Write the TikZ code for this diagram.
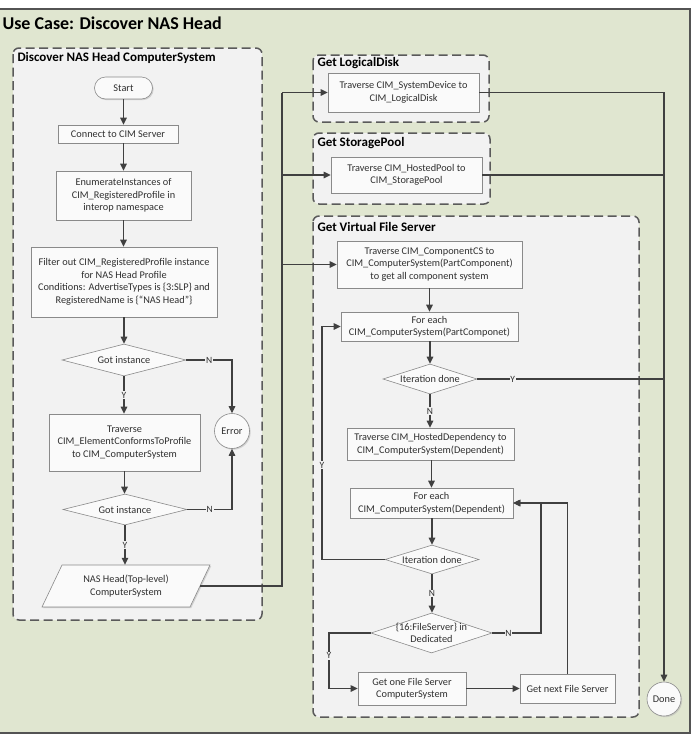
\documentclass[tikz,border=0pt]{standalone}
\usepackage{fontspec}
\setmainfont{Carlito}
\usetikzlibrary{arrows.meta,shapes.geometric,shadows,calc}
\definecolor{outerbg}{HTML}{E0E6D0}
\definecolor{groupbg}{HTML}{F2F2F2}
\definecolor{linec}{HTML}{404040}
\definecolor{boxborder}{HTML}{8A8A8A}
\definecolor{boxfill}{HTML}{FAFAFA}
\definecolor{txt}{HTML}{303030}
\definecolor{dashc}{HTML}{5A5A5A}
\begin{document}
\begin{tikzpicture}[x=1pt,y=-1pt,
  font=\fontsize{10.3}{12.5}\selectfont,
  every label/.style={text=txt},
  proc/.style={draw=boxborder, line width=0.6pt, fill=boxfill, text=txt, align=center, inner sep=1pt,
    drop shadow={shadow xshift=1.2pt, shadow yshift=-1.2pt, fill=black!30, opacity=0.5}},
  dec/.style={diamond, draw=boxborder, line width=0.6pt, fill=boxfill, inner sep=0pt},
  line/.style={draw=linec, line width=1.05pt},
  arr/.style={line, -{Triangle[length=7pt,width=6.5pt]}},
  lbl/.style={fill=groupbg, inner sep=0.8pt, text=txt, font=\fontsize{9.5}{11}\selectfont},
  grp/.style={draw=dashc, dash pattern=on 9pt off 4.5pt, line width=1.5pt, fill=groupbg, rounded corners=6pt},
  grptitle/.style={anchor=west, text=black, font=\bfseries\fontsize{13}{15}\selectfont}]
\useasboundingbox (0,0) rectangle (691,740);
% outer frame
\draw[draw=linec!90, fill=outerbg, line width=1.5pt] (-3,9) rectangle (690,733);
\node[anchor=west, text=black, font=\bfseries\fontsize{18}{20}\selectfont] (title) at (-1,23) {Use Case: Discover NAS Head};
% groups
\draw[grp] (13,48) rectangle (262,620);
\node[grptitle] (g1t) at (14,58) {Discover NAS Head ComputerSystem};
\draw[grp] (313,55) rectangle (489,122);
\node[grptitle] (g2t) at (314,63) {Get LogicalDisk};
\draw[grp] (313,133) rectangle (490,204);
\node[grptitle] (g3t) at (314,143) {Get StoragePool};
\draw[grp] (313,216) rectangle (639,717);
\node[grptitle] (g4t) at (314,227) {Get Virtual File Server};
% parallelogram outline
\draw[draw=boxborder, line width=0.6pt, fill=boxfill, drop shadow={shadow xshift=1.2pt, shadow yshift=-1.2pt, fill=black!30, opacity=0.5}]
  (42,607) -- (190,607) -- (210,565) -- (62,565) -- cycle;
% left column
\node[proc, rounded corners=11pt, minimum width=58pt, minimum height=22pt] (start) at (123.5,88) {Start};
\node[proc, minimum width=120pt, minimum height=18pt] (connect) at (118,134) {Connect to CIM Server};
\node[proc, minimum width=135pt, minimum height=49pt] (enum) at (123.5,195.5) {EnumerateInstances of\\CIM\_RegisteredProfile in\\interop namespace};
\node[proc, minimum width=186pt, minimum height=70pt] (filter) at (124,282) {Filter out CIM\_RegisteredProfile instance\\for NAS Head Profile\\Conditions: AdvertiseTypes is \{3:SLP\} and\\RegisteredName is \{“NAS Head”\}};
\node[dec, minimum width=124pt, minimum height=32pt, label=center:Got instance] (d1) at (124,360) {};
\node[proc, minimum width=151pt, minimum height=57pt] (trav) at (124.5,442.5) {Traverse\\CIM\_ElementConformsToProfile\\to CIM\_ComputerSystem};
\node[proc, circle, minimum size=35pt, inner sep=0pt] (err) at (232,431) {Error};
\node[dec, minimum width=124pt, minimum height=31pt, label=center:Got instance] (d2) at (125,509.5) {};
\node[align=center, text=txt, minimum width=148pt, minimum height=42pt, inner sep=0pt] (nas) at (126,586) {NAS Head(Top-level)\\ComputerSystem};
% right side
\node[proc, minimum width=151pt, minimum height=39pt] (ld) at (403.5,92.5) {Traverse CIM\_SystemDevice to\\CIM\_LogicalDisk};
\node[proc, minimum width=151pt, minimum height=36pt] (sp) at (406.5,175) {Traverse CIM\_HostedPool to\\CIM\_StoragePool};
\node[proc, minimum width=185pt, minimum height=47pt] (vA) at (429.5,264.5) {Traverse CIM\_ComponentCS to\\CIM\_ComputerSystem(PartComponent)\\to get all component system};
\node[proc, minimum width=177pt, minimum height=29pt] (vB) at (429.5,326.5) {For each\\CIM\_ComputerSystem(PartComponet)};
\node[dec, minimum width=94pt, minimum height=30pt, label=center:Iteration done] (dC) at (430,379) {};
\node[proc, minimum width=167pt, minimum height=32pt] (vD) at (430.5,444) {Traverse CIM\_HostedDependency to\\CIM\_ComputerSystem(Dependent)};
\node[proc, minimum width=163pt, minimum height=30pt] (vE) at (431.5,503) {For each\\CIM\_ComputerSystem(Dependent)};
\node[dec, minimum width=94pt, minimum height=29pt, label=center:Iteration done] (dF) at (432,559.5) {};
\node[dec, minimum width=121pt, minimum height=40pt, label={[align=center]center:{\{16:FileServer\} in\\Dedicated}}] (dG) at (431.5,633) {};
\node[proc, minimum width=108pt, minimum height=33pt] (vI) at (412,688.5) {Get one File Server\\ComputerSystem};
\node[proc, minimum width=95pt, minimum height=29pt] (vH) at (567.5,688.5) {Get next File Server};
\node[proc, circle, minimum size=34pt, inner sep=0pt] (done) at (664,699) {Done};
% helper coordinates
\coordinate (busx) at (282,0);
\coordinate (lx) at (322,0);
\coordinate (mx) at (541,0);
\coordinate (yx) at (329,0);
% left column connectors
\draw[arr] (start.south) -- (start.south |- connect.north);
\draw[arr] (connect.south -| enum) -- (enum.north);
\draw[arr] (enum.south) -- (enum.south |- filter.north);
\draw[arr] (filter.south) -- (filter.south |- d1.north);
\draw[arr] (d1.south) -- node[lbl]{Y} (d1.south |- trav.north);
\draw[arr] (d1.east) -- node[lbl]{N} (d1.east -| err) -- (err.north);
\draw[arr] (trav.south) -- (trav.south |- d2.north);
\draw[arr] (d2.east) -- node[lbl]{N} (d2.east -| err) -- (err.south);
\draw[arr] (d2.south) -- node[lbl]{Y} (d2.south |- nas.north);
% bus to right groups
\draw[line] (nas.east) -- (nas.east -| busx) -- (busx |- ld.west);
\draw[arr] (busx |- ld.west) -- (ld.west);
\draw[arr] (busx |- sp.west) -- (sp.west);
\draw[arr] (busx |- vA.west) -- (vA.west);
% to Done
\draw[arr] (ld.east) -- (ld.east -| done) -- (done.north);
\draw[line] (sp.east) -- (sp.east -| done);
\draw[line] (dC.east) -- node[lbl, pos=0.19]{Y} (dC.east -| done);
% virtual file server flow
\draw[arr] (vA.south) -- (vA.south |- vB.north);
\draw[arr] (vB.south -| dC) -- (dC.north);
\draw[arr] (dC.south) -- node[lbl]{N} (dC.south |- vD.north);
\draw[arr] (vD.south -| vE) -- (vE.north);
\draw[arr] (vE.south -| dF) -- (dF.north);
\draw[arr] (dF.west) -- (dF.west -| lx) -- node[lbl, pos=0.405]{Y} (lx |- vB.west) -- (vB.west);
\draw[arr] (dF.south) -- node[lbl]{N} (dF.south |- dG.north);
\draw[arr] (dG.east) -- node[lbl, pos=0.33]{N} (dG.east -| mx) -- (mx |- vE.east) -- (vE.east);
\draw[arr] (vH.north) -- (vH.north |- vE.east) -- (vE.east);
\draw[arr] (dG.west) -- (dG.west -| yx) -- node[lbl, pos=0.41]{Y} (yx |- vI.west) -- (vI.west);
\draw[arr] (vI.east) -- (vH.west);
\end{tikzpicture}
\end{document}
